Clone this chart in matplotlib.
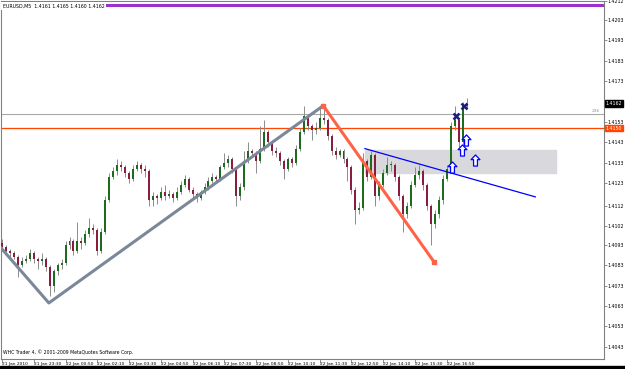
import numpy as np
import matplotlib
matplotlib.use('Agg')
from matplotlib import pyplot as plt
from matplotlib.patches import Rectangle
from matplotlib.path import Path

# EURUSD M5 candles (prices)
opens = [1.4094, 1.4092, 1.4090, 1.4089, 1.4087, 1.4083, 1.4085, 1.4086, 1.4089, 1.4086,
         1.4085, 1.4086, 1.4082, 1.4073, 1.4080, 1.4083, 1.4084, 1.4093, 1.4095, 1.4090,
         1.4095, 1.4094, 1.4098, 1.4101, 1.4100, 1.4090, 1.4099, 1.4115, 1.4126, 1.4129,
         1.4132, 1.4131, 1.4128, 1.4125, 1.4130, 1.4132, 1.4130, 1.4129, 1.4115, 1.4117,
         1.4116, 1.4119, 1.4117, 1.4118, 1.4116, 1.4119, 1.4122, 1.4125, 1.4120, 1.4118,
         1.4116, 1.4119, 1.4121, 1.4124, 1.4126, 1.4125, 1.4131, 1.4133, 1.4135, 1.4130,
         1.4117, 1.4121, 1.4134, 1.4139, 1.4138, 1.4134, 1.4140, 1.4148, 1.4143, 1.4139,
         1.4138, 1.4134, 1.4130, 1.4135, 1.4133, 1.4140, 1.4148, 1.4156, 1.4151, 1.4149,
         1.4150, 1.4155, 1.4154, 1.4146, 1.4139, 1.4137, 1.4139, 1.4135, 1.4131, 1.4120,
         1.4110, 1.4111, 1.4134, 1.4126, 1.4137, 1.4117, 1.4122, 1.4128, 1.4132, 1.4132,
         1.4126, 1.4117, 1.4108, 1.4112, 1.4122, 1.4127, 1.4129, 1.4122, 1.4112, 1.4103,
         1.4108, 1.4115, 1.4125, 1.4130, 1.4151, 1.4154, 1.4143, 1.4161]
highs = [1.4096, 1.4093, 1.4091, 1.4090, 1.4088, 1.4087, 1.4088, 1.4091, 1.4090, 1.4087,
         1.4089, 1.4087, 1.4083, 1.4081, 1.4084, 1.4086, 1.4095, 1.4097, 1.4096, 1.4104,
         1.4097, 1.4100, 1.4106, 1.4103, 1.4101, 1.4101, 1.4117, 1.4128, 1.4131, 1.4135,
         1.4134, 1.4132, 1.4129, 1.4132, 1.4134, 1.4133, 1.4132, 1.4130, 1.4119, 1.4118,
         1.4121, 1.4122, 1.4120, 1.4119, 1.4121, 1.4124, 1.4127, 1.4126, 1.4121, 1.4119,
         1.4120, 1.4123, 1.4126, 1.4128, 1.4127, 1.4132, 1.4138, 1.4137, 1.4136, 1.4131,
         1.4123, 1.4139, 1.4143, 1.4140, 1.4139, 1.4151, 1.4154, 1.4149, 1.4144, 1.4141,
         1.4139, 1.4135, 1.4136, 1.4136, 1.4142, 1.4150, 1.4161, 1.4157, 1.4152, 1.4153,
         1.4160, 1.4161, 1.4155, 1.4147, 1.4141, 1.4140, 1.4140, 1.4136, 1.4132, 1.4121,
         1.4114, 1.4138, 1.4135, 1.4139, 1.4138, 1.4124, 1.4130, 1.4136, 1.4134, 1.4133,
         1.4127, 1.4118, 1.4114, 1.4124, 1.4131, 1.4132, 1.4130, 1.4123, 1.4113, 1.4110,
         1.4117, 1.4127, 1.4132, 1.4153, 1.4161, 1.4155, 1.4163, 1.4165]
lows = [1.4090, 1.4088, 1.4087, 1.4086, 1.4077, 1.4082, 1.4084, 1.4085, 1.4084, 1.4081,
        1.4083, 1.4080, 1.4068, 1.4070, 1.4078, 1.4081, 1.4083, 1.4091, 1.4088, 1.4089,
        1.4091, 1.4093, 1.4097, 1.4098, 1.4088, 1.4089, 1.4098, 1.4114, 1.4125, 1.4127,
        1.4129, 1.4126, 1.4123, 1.4124, 1.4129, 1.4128, 1.4126, 1.4112, 1.4112, 1.4113,
        1.4115, 1.4115, 1.4116, 1.4114, 1.4115, 1.4118, 1.4121, 1.4119, 1.4116, 1.4114,
        1.4115, 1.4118, 1.4120, 1.4123, 1.4123, 1.4124, 1.4130, 1.4131, 1.4128, 1.4112,
        1.4115, 1.4120, 1.4133, 1.4136, 1.4128, 1.4133, 1.4139, 1.4141, 1.4137, 1.4136,
        1.4132, 1.4125, 1.4129, 1.4131, 1.4132, 1.4139, 1.4147, 1.4149, 1.4144, 1.4147,
        1.4149, 1.4152, 1.4144, 1.4137, 1.4135, 1.4136, 1.4133, 1.4124, 1.4118, 1.4103,
        1.4108, 1.4110, 1.4124, 1.4125, 1.4112, 1.4115, 1.4121, 1.4127, 1.4129, 1.4124,
        1.4115, 1.4099, 1.4106, 1.4111, 1.4121, 1.4125, 1.4120, 1.4110, 1.4093, 1.4101,
        1.4106, 1.4113, 1.4124, 1.4129, 1.4149, 1.4141, 1.4142, 1.4160]
closes = opens[1:] + [1.4162]

time_ticks = [0, 8, 16, 24, 32, 40, 48, 56, 64, 72, 80, 88, 96, 104, 112]
time_labels = ['21 Jan 2010', '21 Jan 23:30', '22 Jan 00:50', '22 Jan 02:10', '22 Jan 03:30',
               '22 Jan 04:50', '22 Jan 06:10', '22 Jan 07:30', '22 Jan 08:50', '22 Jan 10:10',
               '22 Jan 11:30', '22 Jan 12:50', '22 Jan 14:10', '22 Jan 15:30', '22 Jan 16:50']
price_ticks = [1.4043, 1.4053, 1.4063, 1.4073, 1.4083, 1.4093, 1.4102, 1.4112, 1.4123,
               1.4133, 1.4143, 1.4153, 1.4173, 1.4183, 1.4193, 1.4203, 1.4212]

# drawn objects (bar index, price)
gray_line_x = [-0.5, 11.8, 80.9]
gray_line_y = [1.4092, 1.40645, 1.4161]
red_line_x = [80.9, 108.8]
red_line_y = [1.4161, 1.40846]
blue_line_x = [91.4, 134.3]
blue_line_y = [1.4140, 1.41164]
zone_x = [91.4, 139.5]
zone_y = [1.41281, 1.41394]
arrow_x = [113.4, 115.9, 116.9, 119.2]
arrow_y = [1.4131, 1.41394, 1.41442, 1.41345]
cross_x = [114.4, 116.4]
cross_y = [1.4156, 1.4161]
level_orange = 1.4150
level_gray = 1.4157
level_purple = 1.4210
bid = 1.4162

fig = plt.figure(figsize=(6.25, 3.69), dpi=100)
ax = fig.add_axes([1/625, 10/369, 603/625, 358/369])
fig.patches.append(Rectangle((0, 0), 1, 3/369, transform=fig.transFigure, color='black'))

n = len(opens)
idx = np.arange(n)
o = np.array(opens); h = np.array(highs); l = np.array(lows); c = np.array(closes)
up = c >= o

# zone and horizontal levels behind candles
ax.add_patch(Rectangle((zone_x[0], zone_y[0]), zone_x[1]-zone_x[0], zone_y[1]-zone_y[0],
                       color='#d9d9dd', zorder=1))
ax.axhline(level_orange, color='#ff4500', lw=0.9, zorder=1)
ax.axhline(level_gray, color='#a8a8a8', lw=0.8, zorder=1)
ax.axhline(level_purple, color='#9932cc', lw=2.2, zorder=1)

ax.vlines(idx, l, h, color='#8c8c8c', lw=0.7, zorder=2)
body_bot = np.minimum(o, c)
body_h = np.maximum(np.abs(c - o), 0.00004)
ax.bar(idx[up], body_h[up], bottom=body_bot[up], width=0.5, color='#1d6b1d', zorder=3)
ax.bar(idx[~up], body_h[~up], bottom=body_bot[~up], width=0.5, color='#8a1c3e', zorder=3)

ax.plot(gray_line_x, gray_line_y, color='#7a8899', lw=2.2, zorder=4, solid_capstyle='round')
ax.plot(red_line_x, red_line_y, color='#ff6347', lw=2.2, zorder=4)
ax.plot(red_line_x, red_line_y, 's', color='#ff6347', ms=3.5, zorder=4)
ax.plot(blue_line_x, blue_line_y, color='#0000ff', lw=0.9, zorder=4)

arrow = Path([(0, 1), (-0.8, 0.15), (-0.35, 0.15), (-0.35, -1), (0.35, -1), (0.35, 0.15),
              (0.8, 0.15), (0, 1)],
             [Path.MOVETO] + [Path.LINETO]*6 + [Path.CLOSEPOLY])
ax.plot(arrow_x, arrow_y, ls='none', marker=arrow, ms=8, mfc='white', mec='#0000ff',
        mew=0.9, zorder=5)
ax.plot(cross_x, cross_y, ls='none', marker='x', ms=5, mew=1.8, color='#1a1a80', zorder=5)

ax.set_xlim(-0.25, 151.6)
ax.set_ylim(1.40371, 1.42122)

for s in ax.spines.values():
    s.set_color('#808080')
    s.set_linewidth(0.8)
ax.yaxis.tick_right()
ax.set_yticks(price_ticks)
ax.set_yticklabels(['%.4f' % p for p in price_ticks])
ax.set_xticks(time_ticks)
ax.set_xticklabels(time_labels, ha='left')
ax.tick_params(axis='y', length=2, width=0.6, color='#808080', labelsize=3.4, pad=0.8)
ax.tick_params(axis='x', length=3, width=0.6, color='#808080', labelsize=3.2, pad=-0.5)

# price boxes on the axis
ax.text(1.003, bid, '1.4162', transform=ax.get_yaxis_transform(), fontsize=3.4, color='white',
        va='center', ha='left', bbox=dict(boxstyle='square,pad=0.15', fc='black', ec='black'))
ax.text(1.003, level_orange, '1.4150', transform=ax.get_yaxis_transform(), fontsize=3.4,
        color='white', va='center', ha='left',
        bbox=dict(boxstyle='square,pad=0.15', fc='#ff4500', ec='#ff4500'))
ax.text(0.993, level_gray + 0.00003, '236', transform=ax.get_yaxis_transform(), fontsize=3.2,
        color='#909090', va='bottom', ha='right')

ax.text(0.003, 0.985, 'EURUSD,M5  1.4161 1.4165 1.4160 1.4162', transform=ax.transAxes,
        fontsize=3.4, va='center', ha='left',
        bbox=dict(boxstyle='square,pad=0.3', fc='white', ec='none'), zorder=6)
ax.text(0.004, 0.01, 'WHC Trader 4, \u00a9 2001-2009 MetaQuotes Software Corp.',
        transform=ax.transAxes, fontsize=3.3, va='bottom', ha='left')

plt.savefig('out.png', dpi=100)
plt.close()
